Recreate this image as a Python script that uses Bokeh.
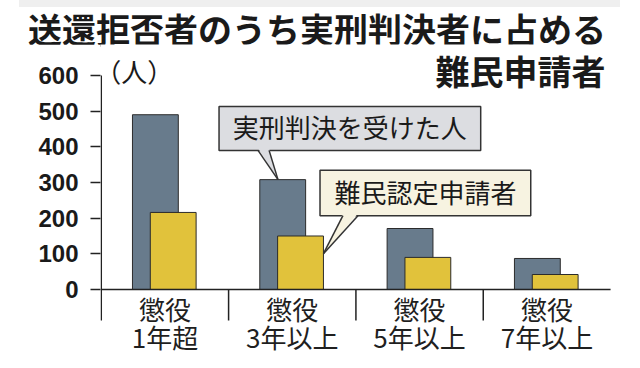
from bokeh.plotting import figure
from bokeh.layouts import column
from bokeh.models import FixedTicker, Range1d, Div
from bokeh.core.properties import value
from bokeh.embed import file_html
from bokeh.resources import INLINE

# ---- data ----
cat_line1 = ["懲役", "懲役", "懲役", "懲役"]
cat_line2 = ["1年超", "3年以上", "5年以上", "7年以上"]
sentenced = [490, 308, 171, 87]      # 実刑判決を受けた人
applicants = [216, 150, 90, 42]      # 難民認定申請者
y_ticks = [0, 100, 200, 300, 400, 500, 600]
title_line1 = "送還拒否者のうち実刑判決者に占める"
title_line2 = "難民申請者"
unit_label = "（人）"
series_names = ["実刑判決を受けた人", "難民認定申請者"]

GRAY = "#687b8c"
YELLOW = "#e1c23b"
DARK = "#222222"
BAND = "#efefef"
JP = "Noto Sans CJK JP"
W = 640

# ---- header: grey strip + first title line (HTML text) ----
HEAD_H = 44
head_html = (
    f'<div style="position:relative;width:{W}px;height:{HEAD_H}px;margin:0;padding:0;">'
    f'<div style="position:absolute;left:19px;top:0;width:601px;height:7px;background:{BAND};"></div>'
    f'<div style="position:absolute;right:34px;top:14px;white-space:nowrap;'
    f"font-family:'{JP}';font-weight:bold;font-size:34px;line-height:30px;color:#1a1a1a;\">"
    f'{title_line1}</div></div>'
)
head = Div(text=head_html, width=W, height=HEAD_H, margin=0)

# ---- main chart ----
n = len(cat_line1)
idx = list(range(n))
MAIN_H = 318
p = figure(width=W, height=MAIN_H, output_backend="svg", toolbar_location=None,
           x_range=Range1d(-0.006, 4.235), y_range=Range1d(-204.7, 686.9),
           x_axis_location=None,
           min_border_left=100, min_border_right=0, min_border_top=0, min_border_bottom=0)
p.outline_line_color = None
p.grid.visible = False
p.background_fill_color = "white"
p.border_fill_color = "white"

bw = 0.36
gx = [i + 0.5 - 0.075 for i in idx]
yx = [i + 0.5 + 0.065 for i in idx]

p.vbar(x=gx, top=sentenced, bottom=0, width=bw, fill_color=GRAY,
       line_color="#2b2b2b", line_width=1)
p.vbar(x=yx, top=applicants, bottom=0, width=bw, fill_color=YELLOW,
       line_color="#2b2b2b", line_width=1)

yax = p.yaxis[0]
yax.ticker = FixedTicker(ticks=y_ticks)
yax.major_tick_out = 10
yax.major_tick_in = 0
yax.minor_tick_out = 0
yax.minor_tick_in = 0
yax.axis_line_color = None
yax.major_tick_line_color = DARK
yax.major_tick_line_width = 1.5
yax.major_label_text_font = "Liberation Sans"
yax.major_label_text_font_style = "bold"
yax.major_label_text_font_size = "24px"
yax.major_label_text_color = "#1a1a1a"
yax.major_label_standoff = 12

DIV_DEPTH = -87
p.segment(x0=[0], y0=[DIV_DEPTH], x1=[0], y1=[y_ticks[-1]], line_color=DARK, line_width=1.5)
p.segment(x0=[0], y0=[0], x1=[n], y1=[0], line_color=DARK, line_width=1.5)
p.segment(x0=idx[1:], y0=[0] * (n - 1), x1=idx[1:], y1=[DIV_DEPTH] * (n - 1),
          line_color=DARK, line_width=1.5)

cx = [i + 0.5 for i in idx]
p.text(x=cx, y=[-52] * n, text=cat_line1, text_align="center", text_baseline="middle",
       text_font=value(JP), text_font_size="26px", text_color="#1f1f1f")
p.text(x=cx, y=[-133] * n, text=cat_line2, text_align="center", text_baseline="middle",
       text_font=value(JP), text_font_size="26px", text_color="#1f1f1f")

p.text(x=[3.961], y=[614], text=[title_line2], text_align="right", text_baseline="middle",
       text_font=value(JP), text_font_style="bold", text_font_size="34px", text_color="#1a1a1a")
p.text(x=[-0.047], y=[615], text=[unit_label], text_align="left", text_baseline="middle",
       text_font=value(JP), text_font_size="26px", text_color="#1a1a1a")


def callout(left, right, top, bottom, base0, base1, tip, text, fill):
    p.quad(left=[left], right=[right], top=[top], bottom=[bottom], fill_color=fill,
           line_color="#333333", line_width=1.5)
    p.patch(x=[base0, base1, tip[0]], y=[bottom + 6, bottom + 6, tip[1]], fill_color=fill,
            line_color=None)
    p.segment(x0=[base0, base1], y0=[bottom, bottom], x1=[tip[0], tip[0]], y1=[tip[1], tip[1]],
              line_color="#333333", line_width=1.5)
    p.text(x=[(left + right) / 2], y=[(top + bottom) / 2 + 5], text=[text], text_align="center",
           text_baseline="middle", text_font=value(JP), text_font_size="26px",
           text_color="#1a1a1a")


callout(0.925, 2.98, 513, 390, 1.231, 1.318, (gx[1] - 0.037, sentenced[1]),
        series_names[0], "#dcdde1")
callout(1.718, 3.373, 334, 207, 1.898, 2.016, (yx[1] + bw / 2, applicants[1] * 0.67),
        series_names[1], "#f7f3e1")

# ---- footer grey strip ----
FOOT_H = 6
foot = Div(text=(f'<div style="position:relative;width:{W}px;height:{FOOT_H}px;margin:0;padding:0;">'
                 f'<div style="position:absolute;left:20px;top:0;width:598px;height:{FOOT_H}px;'
                 f'background:{BAND};"></div></div>'),
           width=W, height=FOOT_H, margin=0)

layout = column(head, p, foot, spacing=0)
open("out.html", "w").write(file_html(layout, INLINE))
